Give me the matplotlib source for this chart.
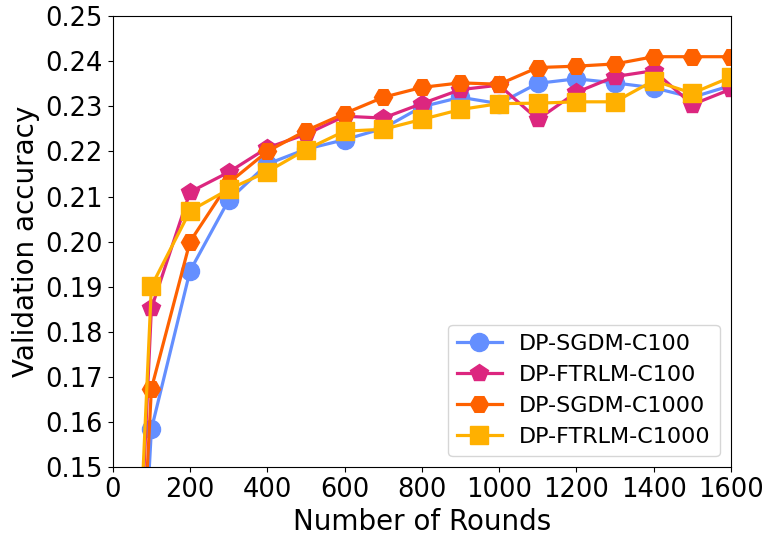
import matplotlib
matplotlib.use('Agg')
import matplotlib.pyplot as plt

rounds = [0, 100, 200, 300, 400, 500, 600, 700, 800, 900, 1000, 1100, 1200, 1300, 1400, 1500, 1600]

sgdm_c100 = [0.0, 0.1584, 0.1935, 0.2092, 0.2172, 0.2205, 0.2226, 0.2251, 0.2299, 0.2320, 0.2306, 0.2351, 0.2361, 0.2352, 0.2341, 0.2320, 0.2346]
ftrlm_c100 = [0.0, 0.1852, 0.2110, 0.2154, 0.2208, 0.2238, 0.2278, 0.2274, 0.2306, 0.2337, 0.2347, 0.2271, 0.2331, 0.2366, 0.2379, 0.2304, 0.2338]
sgdm_c1000 = [0.0, 0.1674, 0.2000, 0.2130, 0.2200, 0.2246, 0.2284, 0.2320, 0.2342, 0.2352, 0.2349, 0.2386, 0.2389, 0.2394, 0.2410, 0.2410, 0.2410]
ftrlm_c1000 = [0.0, 0.1901, 0.2068, 0.2116, 0.2155, 0.2204, 0.2245, 0.2249, 0.2271, 0.2293, 0.2306, 0.2307, 0.2310, 0.2310, 0.2357, 0.2329, 0.2365]

labels = ['DP-SGDM-C100', 'DP-FTRLM-C100', 'DP-SGDM-C1000', 'DP-FTRLM-C1000']
colors = ['#648FFF', '#DC267F', '#FE6100', '#FFB000']
markers = ['o', 'p', 'H', 's']

fig = plt.figure(figsize=(7.67, 5.37), dpi=100)
ax = fig.add_axes([0.147, 0.130, 0.806, 0.840])

for ys, lab, c, m in zip([sgdm_c100, ftrlm_c100, sgdm_c1000, ftrlm_c1000], labels, colors, markers):
    ax.plot(rounds, ys, color=c, marker=m, markersize=13, linewidth=2.3, label=lab)

ax.set_xlim(0, 1600)
ax.set_ylim(0.15, 0.25)
ax.set_xticks(range(0, 1601, 200))
ax.set_yticks([0.15 + 0.01 * i for i in range(11)])
ax.set_yticklabels(['%.2f' % (0.15 + 0.01 * i) for i in range(11)])
ax.tick_params(labelsize=18.5)
ax.set_xlabel('Number of Rounds', fontsize=20)
ax.set_ylabel('Validation accuracy', fontsize=20)
ax.legend(loc='lower right', fontsize=16)

fig.savefig('out.png', dpi=100)
